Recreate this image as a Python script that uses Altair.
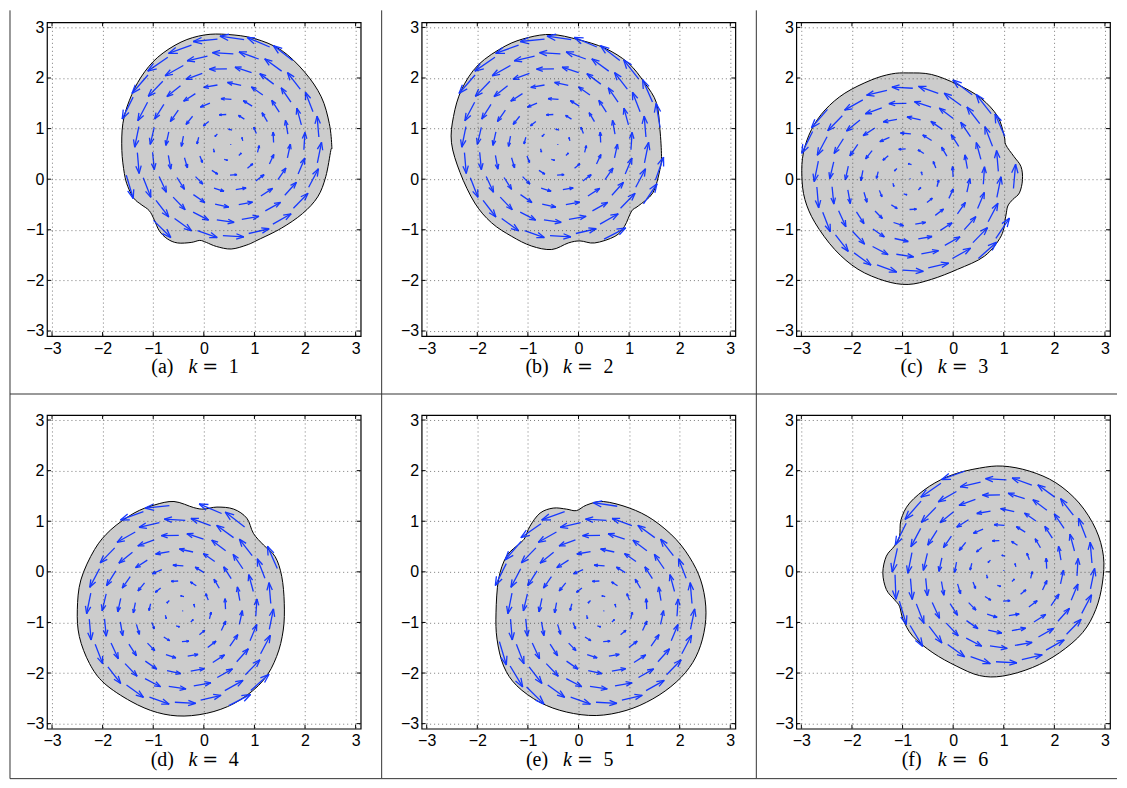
import altair as alt
import numpy as np
import pandas as pd

# ---------------- data ----------------
LETTERS = ["a", "b", "c", "d", "e", "f"]
K_VALUES = [1, 2, 3, 4, 5, 6]
TICKS = [-3, -2, -1, 0, 1, 2, 3]

# vortex centres
CENTER_X = [0.48, -0.46, -0.90, -0.47, 0.45, 0.95]
CENTER_Y = [0.68, 0.68, 0.0, -0.78, -0.78, 0.02]

# outlines of the grey regions
A_X = [0.47, 1.0, 1.53, 1.99, 2.32, 2.48, 2.53, 2.51, 2.41, 2.25, 1.95, 1.53, 1.07, 0.85, 0.54, 0.25, 0.05, -0.08, -0.25, -0.52, -0.72, -0.88, -0.98, -1.08, -1.24, -1.38, -1.50, -1.57, -1.62, -1.60, -1.47, -1.24, -0.91, -0.45, 0.01]
A_Y = [2.86, 2.78, 2.55, 2.12, 1.63, 1.10, 0.64, 0.57, 0.05, -0.35, -0.68, -0.97, -1.20, -1.30, -1.38, -1.33, -1.25, -1.21, -1.25, -1.26, -1.18, -1.02, -0.80, -0.62, -0.50, -0.38, -0.15, 0.11, 0.57, 1.10, 1.56, 2.02, 2.41, 2.71, 2.85]

B_X = [-0.53, -0.01, 0.52, 0.98, 1.31, 1.54, 1.61, 1.64, 1.61, 1.47, 1.18, 1.05, 0.91, 0.72, 0.32, 0.03, -0.20, -0.53, -0.93, -1.32, -1.72, -2.05, -2.34, -2.51, -2.47, -2.31, -1.98, -1.45, -0.99]
B_Y = [2.86, 2.76, 2.59, 2.30, 1.90, 1.51, 0.98, 0.45, 0.19, -0.27, -0.53, -0.63, -0.93, -1.13, -1.26, -1.22, -1.26, -1.39, -1.32, -1.13, -0.86, -0.47, 0.13, 0.72, 1.24, 1.77, 2.26, 2.63, 2.80]

C_X = [-0.89, -0.43, 0.09, 0.55, 0.88, 1.01, 1.04, 1.20, 1.34, 1.37, 1.31, 1.18, 1.08, 1.04, 0.95, 0.62, 0.09, -0.43, -0.89, -1.35, -1.88, -2.34, -2.73, -2.93, -2.99, -2.96, -2.80, -2.53, -2.14, -1.62, -1.22]
C_Y = [2.10, 2.07, 1.87, 1.60, 1.24, 0.85, 0.68, 0.45, 0.25, -0.01, -0.27, -0.40, -0.53, -0.73, -1.12, -1.52, -1.78, -1.98, -2.08, -2.01, -1.78, -1.39, -0.86, -0.40, 0.06, 0.52, 0.98, 1.37, 1.70, 1.96, 2.08]

D_X = [-0.59, -0.20, 0.00, 0.26, 0.59, 0.85, 0.98, 1.18, 1.41, 1.54, 1.59, 1.57, 1.44, 1.18, 0.72, 0.20, -0.39, -0.92, -1.44, -1.97, -2.26, -2.46, -2.50, -2.43, -2.16, -1.84, -1.38, -0.98]
D_Y = [1.39, 1.27, 1.24, 1.28, 1.24, 1.06, 0.76, 0.53, 0.30, -0.09, -0.62, -1.15, -1.67, -2.14, -2.53, -2.76, -2.85, -2.78, -2.56, -2.20, -1.81, -1.28, -0.75, -0.16, 0.44, 0.83, 1.16, 1.32]

E_X = [0.49, 1.01, 1.47, 1.93, 2.26, 2.45, 2.52, 2.45, 2.26, 1.93, 1.47, 0.94, 0.35, -0.24, -0.76, -1.22, -1.48, -1.61, -1.63, -1.58, -1.42, -1.15, -1.06, -0.96, -0.76, -0.50, -0.24, -0.04, 0.16]
E_Y = [1.39, 1.26, 1.03, 0.64, 0.18, -0.28, -0.81, -1.33, -1.79, -2.18, -2.51, -2.74, -2.84, -2.77, -2.58, -2.25, -1.86, -1.33, -0.81, -0.15, 0.31, 0.57, 0.67, 0.90, 1.16, 1.26, 1.24, 1.21, 1.32]

F_X = [0.98, 1.51, 2.03, 2.49, 2.82, 2.97, 2.95, 2.82, 2.56, 2.10, 1.57, 0.98, 0.52, 0.06, -0.40, -0.80, -0.99, -1.06, -1.16, -1.32, -1.39, -1.32, -1.16, -1.06, -1.03, -0.86, -0.47, -0.01, 0.52]
F_Y = [2.09, 1.99, 1.76, 1.36, 0.84, 0.31, -0.22, -0.74, -1.20, -1.60, -1.89, -2.06, -2.05, -1.86, -1.60, -1.27, -0.94, -0.68, -0.55, -0.35, -0.02, 0.31, 0.51, 0.70, 1.03, 1.36, 1.69, 1.92, 2.05]

OUTLINES = {"a": (A_X, A_Y), "b": (B_X, B_Y), "c": (C_X, C_Y),
            "d": (D_X, D_Y), "e": (E_X, E_Y), "f": (F_X, F_Y)}

# quiver: rings of arrows around each centre
RING_RADIUS = [0.05, 0.30, 0.60, 0.90, 1.20, 1.50, 1.80, 2.10]
RING_COUNT = [1, 6, 10, 13, 16, 19, 22, 25]
RING_PHASE = [0.0, 0.25, 0.6, 0.1, 0.45, 0.8, 0.3, 0.65]   # fraction of one step
ARROW_SCALE = 0.23   # arrow length per unit radius

# ---------------- layout constants ----------------
W = H = 314
DOM = [-3.1, 3.1]
BLUE = "#1638ff"
LINE = "#333333"
LABEL_SIZE = 16


def inside(px, py, xs, ys):
    c = False
    n = len(xs)
    j = n - 1
    for i in range(n):
        if (ys[i] > py) != (ys[j] > py):
            xi = (xs[j] - xs[i]) * (py - ys[i]) / (ys[j] - ys[i]) + xs[i]
            if px < xi:
                c = not c
        j = i
    return c


def arrows(idx):
    xs, ys = OUTLINES[LETTERS[idx]]
    cx, cy = CENTER_X[idx], CENTER_Y[idx]
    rows = []
    for r, n, ph in zip(RING_RADIUS, RING_COUNT, RING_PHASE):
        for m in range(n):
            th = 2 * np.pi * (m + ph) / n
            x0, y0 = cx + r * np.cos(th), cy + r * np.sin(th)
            L = ARROW_SCALE * r
            u, v = -np.sin(th) * L, np.cos(th) * L
            if not inside(x0 + u / 2, y0 + v / 2, xs, ys):
                continue
            hx, hy = x0 + u, y0 + v
            rows.append((x0, y0, hx, hy))
            a, b = 0.36, 0.36
            rows.append((hx, hy, hx - a * (u + b * v), hy - a * (v - b * u)))
            rows.append((hx, hy, hx - a * (u - b * v), hy - a * (v + b * u)))
    return pd.DataFrame(rows, columns=["x", "y", "x2", "y2"])


AXIS_STYLE = dict(values=TICKS, grid=True, ticks=False, domain=False, title=None,
                  labelFlush=False, zindex=1, labelFont="Liberation Sans",
                  labelFontSize=LABEL_SIZE, labelColor="black", gridDash=[1, 3],
                  gridColor="#222222", gridOpacity=0.75, gridWidth=0.8)


def panel(idx):
    letter = LETTERS[idx]
    col = idx % 3
    row = idx // 3
    xs_, ys_ = OUTLINES[letter]
    xscale = alt.Scale(domain=DOM, nice=False, zero=False)
    yscale = alt.Scale(domain=DOM, nice=False, zero=False)
    xaxis = alt.Axis(labelPadding=4, **AXIS_STYLE)
    yaxis = alt.Axis(labelPadding=3, **AXIS_STYLE)

    blob_df = pd.DataFrame({"x": xs_, "y": ys_, "i": list(range(len(xs_)))})
    blob = alt.Chart(blob_df).mark_line(
        interpolate="cardinal-closed", fill="#cccccc", stroke="black",
        strokeWidth=1, clip=True
    ).encode(
        x=alt.X("x:Q", scale=xscale, axis=xaxis),
        y=alt.Y("y:Q", scale=yscale, axis=yaxis),
        order="i:Q",
    )

    arr = alt.Chart(arrows(idx)).mark_rule(color=BLUE, strokeWidth=1.3, clip=True).encode(
        x=alt.X("x:Q", scale=xscale, axis=xaxis), y=alt.Y("y:Q", scale=yscale, axis=yaxis),
        x2="x2:Q", y2="y2:Q"
    )

    tdf = pd.DataFrame({"t": TICKS})
    tick_b = alt.Chart(tdf).mark_rule(color="black").encode(
        x=alt.X("t:Q", scale=xscale, axis=xaxis), y=alt.value(H), y2=alt.value(H - 4))
    tick_t = alt.Chart(tdf).mark_rule(color="black").encode(
        x=alt.X("t:Q", scale=xscale, axis=xaxis), y=alt.value(0), y2=alt.value(4))
    tick_l = alt.Chart(tdf).mark_rule(color="black").encode(
        y=alt.Y("t:Q", scale=yscale, axis=yaxis), x=alt.value(0), x2=alt.value(4))
    tick_r = alt.Chart(tdf).mark_rule(color="black").encode(
        y=alt.Y("t:Q", scale=yscale, axis=yaxis), x=alt.value(W), x2=alt.value(W - 4))

    cap_df = pd.DataFrame({"lab": [f"({letter})"], "k": ["k"], "eq": ["="], "n": [str(K_VALUES[idx])]})
    base_y = 351
    cap1 = alt.Chart(cap_df).mark_text(font="Liberation Serif", fontSize=20, baseline="alphabetic",
                                       align="center", color="black").encode(
        text="lab:N", x=alt.value(115.5), y=alt.value(base_y))
    cap2 = alt.Chart(cap_df).mark_text(font="Liberation Serif", fontSize=20, fontStyle="italic",
                                       baseline="alphabetic", align="center", color="black").encode(
        text="k:N", x=alt.value(146), y=alt.value(base_y))
    cap3 = alt.Chart(cap_df).mark_text(font="DejaVu Serif", fontSize=19, baseline="alphabetic",
                                       align="center", color="black").encode(
        text="eq:N", x=alt.value(163.5), y=alt.value(base_y))
    cap4 = alt.Chart(cap_df).mark_text(font="Liberation Serif", fontSize=20, baseline="alphabetic",
                                       align="center", color="black").encode(
        text="n:N", x=alt.value(187), y=alt.value(base_y))

    # table frame lines (decoration around each cell)
    one = pd.DataFrame({"d": [0]})
    left_x = -37 if col == 0 else -40
    right_x = 335 if col < 2 else 321
    if row == 0:
        top_y, bot_y = -12, 372
    else:
        top_y, bot_y = -21, 364
    frame = [
        alt.Chart(one).mark_rule(color=LINE, strokeWidth=1).encode(
            x=alt.value(left_x), y=alt.value(top_y), y2=alt.value(bot_y)),
        alt.Chart(one).mark_rule(color=LINE, strokeWidth=1).encode(
            x=alt.value(left_x), x2=alt.value(right_x), y=alt.value(bot_y)),
    ]
    return alt.layer(blob, arr, tick_b, tick_t, tick_l, tick_r, cap1, cap2, cap3, cap4, *frame).properties(
        width=W, height=H)


chart = alt.concat(*[panel(i) for i in range(6)], columns=3,
                   spacing=alt.RowColnumber(row=79, column=61), bounds="flush").properties(
    padding=0, background="white"
).configure_view(
    stroke="black", strokeWidth=1.2
).configure_axis(
    labelFont="Liberation Sans", labelFontSize=LABEL_SIZE, labelColor="black",
    gridDash=[1, 3], gridColor="#222222", gridOpacity=0.75, gridWidth=0.8
)

chart.save("out.html", embed_options={"renderer": "svg", "actions": False})
